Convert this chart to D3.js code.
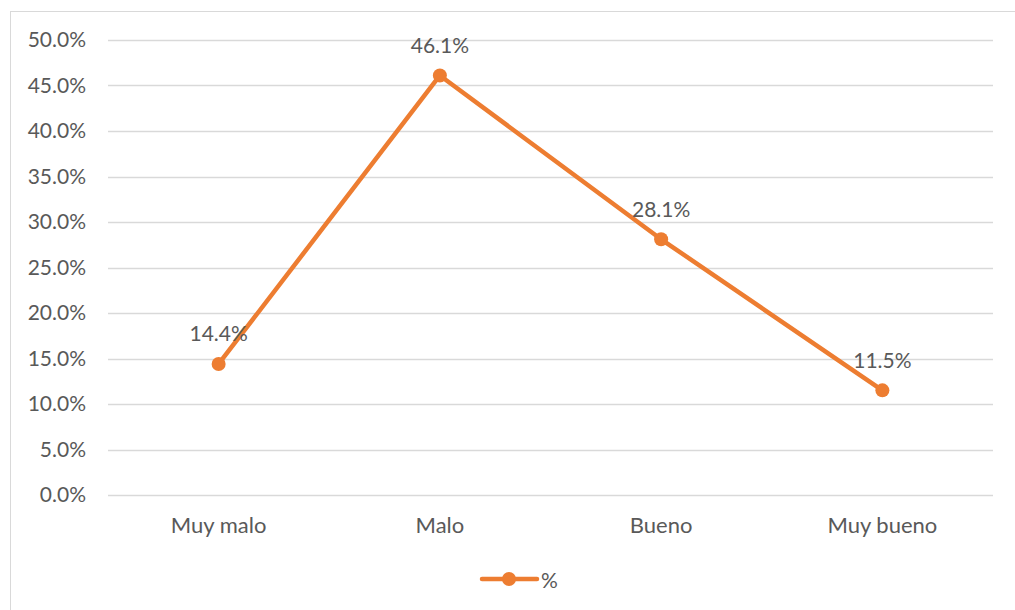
<!DOCTYPE html>
<html><head><meta charset="utf-8">
<script src="https://cdn.jsdelivr.net/npm/d3@7"></script>
<style>body{margin:0;background:#fff}svg{display:block}text{font-family:Lato,"Open Sans",sans-serif;fill:#595959}</style>
</head><body><svg id="c" width="1015" height="610"></svg>
<script>
const categories = ["Muy malo", "Malo", "Bueno", "Muy bueno"];
const values = [14.4, 46.1, 28.1, 11.5];
const yTicks = [0, 5, 10, 15, 20, 25, 30, 35, 40, 45, 50];
const seriesName = "%";

const svg = d3.select("#c");
const color = "#ED7D31";
svg.append("rect").attr("x", 10.5).attr("y", 11.5).attr("width", 1020).attr("height", 620)
  .attr("fill", "#fff").attr("stroke", "#D9D9D9").attr("stroke-width", 1);

const x = d3.scaleBand().domain(categories).range([108, 993]);
const y = d3.scaleLinear().domain([0, 50]).range([495, 40]);

const grid = svg.append("g");
grid.selectAll("line").data(yTicks).join("line")
  .attr("x1", 108).attr("x2", 993)
  .attr("y1", d => Math.round(y(d)) + 0.5).attr("y2", d => Math.round(y(d)) + 0.5)
  .attr("stroke", "#D9D9D9").attr("stroke-width", 1.5);

const yAxis = svg.append("g").attr("transform", "translate(108,0)")
  .call(d3.axisLeft(y).tickValues(yTicks).tickSize(0).tickPadding(22).tickFormat(d => d.toFixed(1) + "%"));
yAxis.select(".domain").remove();
yAxis.selectAll("text").style("font-size", "21px").attr("fill", "#595959");

const xAxis = svg.append("g").attr("transform", "translate(0,495)")
  .call(d3.axisBottom(x).tickSize(0).tickPadding(22));
xAxis.select(".domain").remove();
xAxis.selectAll("text").style("font-size", "22px").attr("fill", "#595959");

const cx = d => x(d) + x.bandwidth() / 2;
const pts = categories.map((c, i) => [cx(c), y(values[i])]);
svg.append("path").attr("d", d3.line()(pts)).attr("fill", "none")
  .attr("stroke", color).attr("stroke-width", 4.5).attr("stroke-linejoin", "round").attr("stroke-linecap", "round");
svg.selectAll("circle.pt").data(pts).join("circle").attr("class", "pt")
  .attr("cx", d => d[0]).attr("cy", d => d[1]).attr("r", 7).attr("fill", color);
svg.selectAll("text.lbl").data(values).join("text").attr("class", "lbl")
  .attr("x", (d, i) => cx(categories[i])).attr("y", d => y(d) - 31)
  .attr("text-anchor", "middle").attr("dominant-baseline", "central")
  .style("font-size", "21px").text(d => d.toFixed(1) + "%");

const lg = svg.append("g");
lg.append("line").attr("x1", 482).attr("x2", 537).attr("y1", 579).attr("y2", 579)
  .attr("stroke", color).attr("stroke-width", 4.5).attr("stroke-linecap", "round");
lg.append("circle").attr("cx", 509).attr("cy", 579).attr("r", 7).attr("fill", color);
lg.append("text").attr("x", 541).attr("y", 579).attr("dominant-baseline", "central")
  .style("font-size", "21px").text(seriesName);
</script></body></html>
